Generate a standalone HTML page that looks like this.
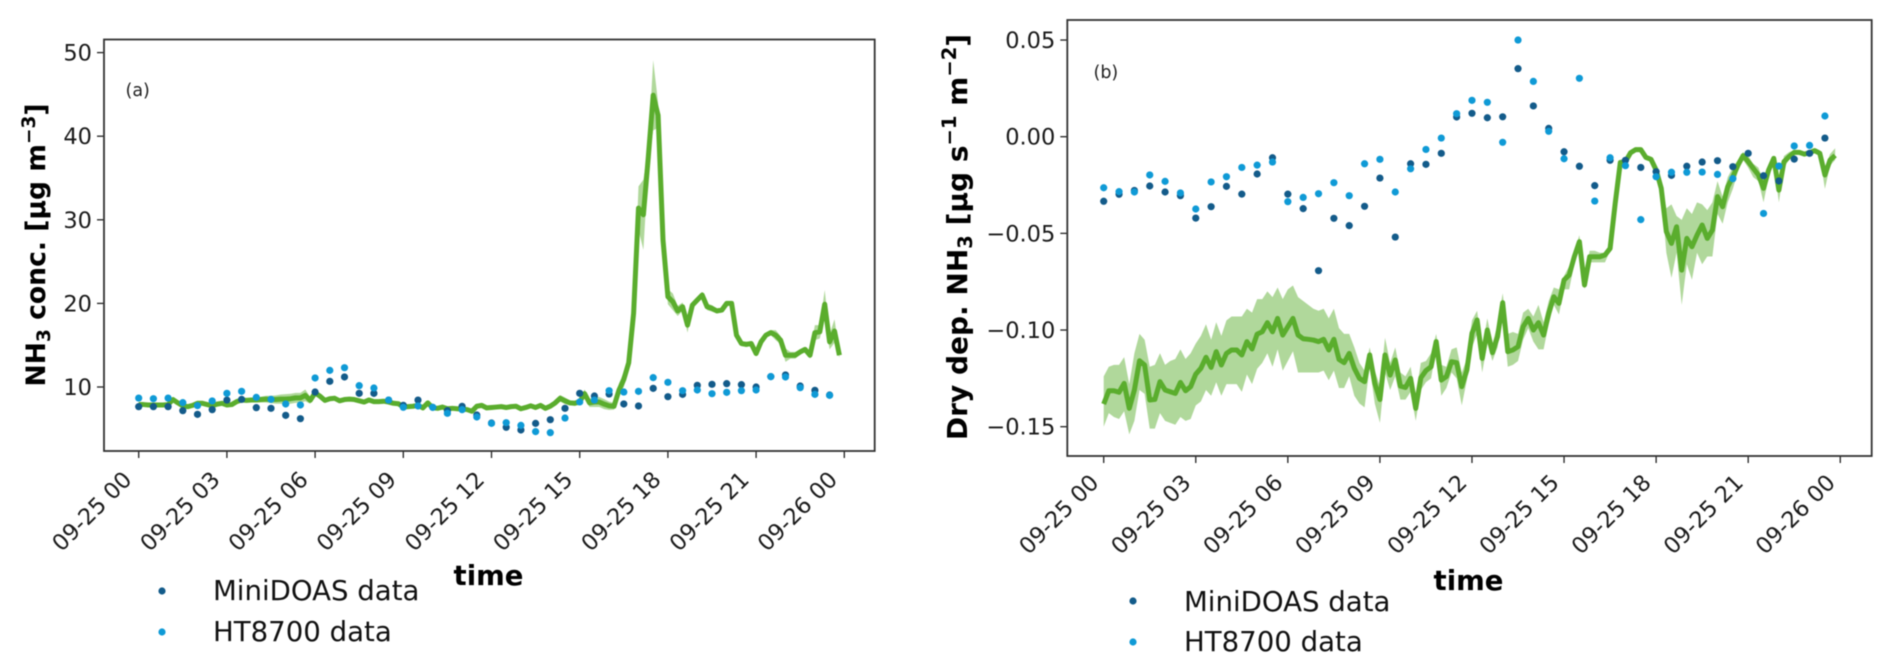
<!DOCTYPE html>
<html lang="en">
<head>
<meta charset="utf-8">
<title>NH3 concentration and dry deposition</title>
<style>
html,body{margin:0;padding:0;background:#fff;}
svg{display:block;font-family:"DejaVu Sans","Liberation Sans",sans-serif;filter:blur(0.45px);}
.tick{font-size:22.5px;fill:#1a1a1a;}
.ylab{font-size:26.6px;font-weight:bold;fill:#000;}
.xlab{font-size:27.5px;font-weight:bold;fill:#000;}
.leg{font-size:27.6px;fill:#111;}
.tag{font-size:17.5px;fill:#222;}
</style>
</head>
<body>
<svg id="chart" xmlns="http://www.w3.org/2000/svg" width="1892" height="671" viewBox="0 0 1892 671">
  <rect x="0" y="0" width="1892" height="671" fill="#fff"/>
  <g id="panelA"></g>
  <g id="panelB"></g>
  <rect x="104" y="39.5" width="770.7" height="411.5" fill="none" stroke="#333" stroke-width="1.8"/>
  <rect x="1067.3" y="20" width="804.4" height="436" fill="none" stroke="#333" stroke-width="1.8"/>
  <text class="tag" x="125.5" y="96">(a)</text>
  <text class="tag" x="1093.5" y="78">(b)</text>
  <text class="ylab" text-anchor="middle" transform="translate(45,245) rotate(-90)">NH<tspan font-size="18.5" dy="5">3</tspan><tspan dy="-5"> conc. [µg m</tspan><tspan font-size="18.5" dy="-10">−3</tspan><tspan dy="10">]</tspan></text>
  <text class="ylab" text-anchor="middle" style="font-size:28px" transform="translate(967,237) rotate(-90)">Dry dep. NH<tspan font-size="19.5" dy="5">3</tspan><tspan dy="-5"> [µg s</tspan><tspan font-size="19.5" dy="-11">−1</tspan><tspan dy="11"> m</tspan><tspan font-size="19.5" dy="-11">−2</tspan><tspan dy="11">]</tspan></text>
  <text class="xlab" text-anchor="middle" x="488.5" y="585">time</text>
  <text class="xlab" text-anchor="middle" x="1468.5" y="590">time</text>
  <g>
    <circle cx="162" cy="591" r="3.6" fill="#135b8a"/>
    <text class="leg" x="213" y="600">MiniDOAS data</text>
    <circle cx="162" cy="632" r="3.6" fill="#0f9ad6"/>
    <text class="leg" x="213" y="641">HT8700 data</text>
  </g>
  <g>
    <circle cx="1133" cy="601" r="3.6" fill="#135b8a"/>
    <text class="leg" x="1184" y="611">MiniDOAS data</text>
    <circle cx="1133" cy="642" r="3.6" fill="#0f9ad6"/>
    <text class="leg" x="1184" y="651">HT8700 data</text>
  </g>
</svg>
<script>
// ---------- shared categories and ticks ----------
const xTickHours = [0,3,6,9,12,15,18,21,24];
const xTickLabels = ["09-25 00","09-25 03","09-25 06","09-25 09","09-25 12","09-25 15","09-25 18","09-25 21","09-26 00"];
const aYTicks = [10,20,30,40,50];
const aYTickLabels = ["10","20","30","40","50"];
const bYTicks = [0.05,0,-0.05,-0.10,-0.15];
const bYTickLabels = ["0.05","0.00","−0.05","−0.10","−0.15"];

// ---------- panel (a): half-hourly measurements ----------
const aMiniDoas = [7.65,7.65,7.65,7.17,6.73,7.29,8.44,8.52,7.53,7.45,6.61,6.21,9.40,10.68,11.20,9.24,9.24,8.44,7.81,8.44,7.57,7.17,7.69,6.65,
5.69,5.18,4.86,5.65,6.09,7.45,9.24,8.92,9.16,7.97,7.73,9.84,8.84,9.12,10.2,10.32,10.4,10.28,10.0,11.24,11.44,10.12,9.6,9.04];
const aHt8700 = [8.68,8.6,8.68,8.13,7.77,8.33,9.24,9.48,8.76,8.52,7.97,7.85,11.08,11.99,12.31,10.16,9.88,8.44,7.57,7.73,7.57,6.85,7.29,6.41,
5.65,5.73,5.41,4.66,4.54,6.29,8.21,8.44,9.56,9.4,9.48,11.12,10.56,9.56,9.64,9.2,9.36,9.56,9.64,11.24,11.2,9.92,9.12,9.0];

// ---------- panel (a): 10-minute model line and spread ----------
const aModel = [
7.9,7.9,7.85,7.85,7.85,7.85, 7.9,8.5,8.1,7.75,7.65,7.8, 8.05,8.05,7.9,7.75,7.95,8.05, 7.85,7.9,8.25,8.45,8.4,8.45,
8.45,8.5,8.55,8.5,8.5,8.55, 8.55,8.6,8.7,8.7,9.0,8.4, 9.3,8.9,8.4,8.6,8.65,8.35, 8.5,8.55,8.5,8.35,8.2,8.45,
8.25,8.25,8.3,8.2,8.05,8.0, 7.6,7.65,7.7,7.8,7.5,8.1, 7.5,7.45,7.6,7.4,7.45,7.4, 7.35,7.3,7.1,7.7,7.8,7.5,
7.55,7.6,7.65,7.55,7.65,7.7, 7.4,7.55,7.75,7.55,7.8,7.45, 7.7,8.1,8.65,8.35,8.1,8.05, 8.25,9.2,8.1,8.2,8.2,7.95,
7.75,7.7,9.6,10.9,12.9,18.8, 31.4,30.6,37.5,44.9,42.5,27.6, 20.8,20.2,19.1,19.6,17.4,19.8, 20.4,21.0,19.6,19.4,19.1,19.2,
20.0,20.0,16.2,15.2,15.1,15.2, 14.0,15.4,16.2,16.5,16.2,15.6, 13.8,13.8,13.8,14.2,14.5,13.8, 16.5,16.6,19.9,15.4,16.7,13.8];
const aSpread = [
.25,.25,.25,.25,.25,.25, .25,.25,.25,.25,.25,.25, .25,.25,.25,.25,.25,.25, .25,.25,.25,.25,.25,.25,
.3,.35,.4,.45,.5,.55, .6,.6,.6,.6,.7,.4, .3,.3,.25,.25,.25,.25, .2,.2,.2,.2,.2,.2,
.2,.2,.2,.2,.2,.2, .2,.2,.2,.2,.2,.2, .2,.2,.2,.2,.2,.2, .2,.2,.2,.2,.2,.2,
.2,.2,.2,.2,.2,.2, .2,.2,.2,.2,.2,.2, .2,.3,.4,.4,.3,.3, .4,.5,.5,.6,.6,.6,
.5,.4,.8,.9,.9,.6, 2.6,4.2,1.2,4.2,1.5,.5, .9,1.0,.6,.5,.9,.4, .4,.4,.4,.4,.3,.3,
.2,.2,.2,.3,.3,.3, .3,.3,.3,.3,.6,.5, .8,.4,.4,.3,.3,.4, .9,.8,1.7,.9,1.4,.3];

// ---------- panel (b): half-hourly measurements ----------
const bMiniDoas = [-.0334,-.0298,-.0278,-.0255,-.0286,-.0305,-.0421,-.0362,-.0257,-.0297,-.0193,-.0109,-.0297,-.0372,-.0693,-.0422,-.0460,-.0360,-.0214,-.0519,-.0140,-.0143,-.0086,.0102,
.0121,.0098,.0103,.0352,.0159,.0043,-.0078,-.0153,-.0253,-.0122,-.0122,-.0159,-.0181,-.0200,-.0153,-.0131,-.0124,-.0155,-.0086,-.0202,-.0229,-.0116,-.0086,-.0007];
const bHt8700 = [-.0264,-.0284,-.0286,-.0198,-.0231,-.0291,-.0374,-.0234,-.0207,-.0159,-.0147,-.0131,-.0336,-.0314,-.0295,-.0238,-.0305,-.0140,-.0117,-.0286,-.0166,-.0066,-.0007,.0119,
.0188,.0178,-.0029,.0500,.0286,.0028,-.0114,.0302,-.0333,-.0109,-.0150,-.0429,-.0207,-.0184,-.0184,-.0183,-.0195,-.0217,null,-.0397,-.0152,-.0048,-.0045,.0107];

// ---------- panel (b): 10-minute model line and envelope ----------
const bModel = [
-.1383,-.1314,-.1314,-.1322,-.1276,-.1405,-.1310,-.1159,-.1181,-.1362,-.1359,-.1267,-.1310,-.1319,-.1328,-.1271,-.1314,-.1293,
-.1228,-.1198,-.1141,-.1193,-.1112,-.1181,-.1121,-.1103,-.1103,-.1129,-.1060,-.1098,-.1021,-.1009,-.0962,-.1009,-.0940,-.1026,
-.0983,-.0940,-.1026,-.1045,-.1048,-.1052,-.1060,-.1048,-.1103,-.1048,-.1152,-.1169,-.1121,-.1198,-.1250,-.1267,-.1129,-.1276,
-.1359,-.1129,-.1233,-.1155,-.1290,-.1297,-.1250,-.1405,-.1247,-.1210,-.1190,-.1060,-.1259,-.1241,-.1164,-.1169,-.1293,-.1207,
-.1017,-.0948,-.1147,-.1000,-.1117,-.1034,-.0859,-.1112,-.1103,-.1086,-.0983,-.0940,-.1000,-.0962,-.1026,-.0914,-.0828,-.0862,
-.0741,-.0716,-.0621,-.0543,-.0767,-.0621,-.0621,-.0621,-.0612,-.0578,-.0345,-.0133,-.0129,-.0083,-.0067,-.0067,-.0107,-.0117,
-.0172,-.0267,-.0491,-.0552,-.0466,-.0690,-.0526,-.0569,-.0509,-.0457,-.0526,-.0483,-.0310,-.0362,-.0259,-.0207,-.0147,-.0098,
-.0129,-.0164,-.0198,-.0267,-.0172,-.0112,-.0276,-.0129,-.0103,-.0081,-.0081,-.0090,-.0083,-.0072,-.0086,-.0198,-.0121,-.0097];
const bUpper = [
-.124,-.119,-.118,-.118,-.114,-.128,-.112,-.102,-.105,-.119,-.118,-.112,-.118,-.116,-.115,-.110,-.115,-.112,
-.107,-.103,-.097,-.105,-.096,-.103,-.095,-.093,-.093,-.093,-.089,-.091,-.084,-.084,-.080,-.083,-.078,-.084,
-.079,-.077,-.083,-.085,-.087,-.089,-.090,-.089,-.094,-.089,-.099,-.102,-.102,-.109,
-.117,-.121,-.109,-.121,-.129,-.104,-.117,-.109,-.122,-.124,-.119,-.134,-.117,-.116,-.112,-.102,-.118,-.119,-.110,-.109,-.122,-.115,
-.095,-.090,-.109,-.094,-.107,-.097,-.081,-.102,-.101,-.102,-.091,-.089,-.093,-.087,-.096,-.085,-.078,-.079,
-.072,-.067,-.059,-.051,-.073,-.059,-.059,-.060,-.060,-.057,-.034,-.012,-.012,-.007,-.006,-.006,-.010,-.011,
-.016,-.024,-.037,-.035,-.041,-.043,-.037,-.040,-.034,-.035,-.038,-.034,-.023,-.031,-.021,-.016,-.012,-.008,
-.010,-.014,-.016,-.023,-.015,-.010,-.023,-.010,-.008,-.007,-.007,-.008,-.007,-.006,-.007,-.016,-.009,-.006];
const bLower = [
-.150,-.143,-.145,-.146,-.142,-.154,-.147,-.131,-.133,-.151,-.151,-.143,-.147,-.148,-.149,-.145,-.147,-.146,
-.139,-.137,-.131,-.134,-.127,-.134,-.128,-.128,-.128,-.132,-.123,-.128,-.120,-.117,-.112,-.119,-.110,-.121,
-.116,-.111,-.122,-.122,-.122,-.122,-.122,-.121,-.126,-.121,-.130,-.130,-.124,-.134,
-.138,-.140,-.119,-.138,-.148,-.122,-.131,-.124,-.136,-.136,-.132,-.147,-.131,-.127,-.125,-.110,-.134,-.130,-.122,-.125,-.139,-.126,
-.109,-.102,-.122,-.107,-.116,-.109,-.091,-.119,-.118,-.116,-.105,-.099,-.106,-.110,-.110,-.097,-.087,-.092,
-.079,-.079,-.066,-.058,-.079,-.065,-.065,-.065,-.065,-.059,-.036,-.015,-.014,-.009,-.008,-.008,-.012,-.013,
-.019,-.029,-.060,-.073,-.060,-.087,-.066,-.074,-.060,-.066,-.062,-.062,-.040,-.045,-.034,-.027,-.018,-.012,
-.016,-.021,-.023,-.034,-.021,-.014,-.034,-.016,-.012,-.009,-.009,-.010,-.009,-.008,-.010,-.027,-.015,-.012];

// ---------- axis functions ----------
function xA(hour){ return 138.7 + hour * 29.4; }
function yA(v){ return 387 - (v - 10) * 8.36; }
function xB(hour){ return 1103.7 + hour * 30.69; }
function yB(v){ return 136.7 - v * 1933.3; }

const NS = "http://www.w3.org/2000/svg";
const DOT_HOURS = 0.5;
const LINE_HOURS = 1 / 6;

function make(tag, attrs, parent){
  const el = document.createElementNS(NS, tag);
  for (const k in attrs) el.setAttribute(k, attrs[k]);
  parent.appendChild(el);
  return el;
}

function drawPanel(parent, x, y, upper, lower, line, mini, ht, yTicks, yLabels, frameLeft, frameBottom, labelDx, labelDy){
  // band
  let d = "";
  for (let i = 0; i < line.length; i++) d += (i ? "L" : "M") + x(i * LINE_HOURS).toFixed(2) + " " + y(upper[i]).toFixed(2);
  for (let i = line.length - 1; i >= 0; i--) d += "L" + x(i * LINE_HOURS).toFixed(2) + " " + y(lower[i]).toFixed(2);
  const band = make("path", {d: d + "Z", fill: "#5aad2d", "fill-opacity": "0.48", stroke: "none"}, parent);
  
  

  // line
  let l = "";
  for (let i = 0; i < line.length; i++) l += (i ? "L" : "M") + x(i * LINE_HOURS).toFixed(2) + " " + y(line[i]).toFixed(2);
  const path = make("path", {d: l, fill: "none", stroke: "#5aad2d", "stroke-width": "5", "stroke-linejoin": "round"}, parent);
  
  

  // points
  mini.forEach(function(v, j){
    if (v === null) return;
    const c = make("circle", {cx: x(j * DOT_HOURS).toFixed(2), cy: y(v).toFixed(2), r: "3.6", fill: "#135b8a"}, parent);
    
    
  });
  ht.forEach(function(v, j){
    if (v === null) return;
    const c = make("circle", {cx: x(j * DOT_HOURS).toFixed(2), cy: y(v).toFixed(2), r: "3.6", fill: "#0f9ad6"}, parent);
    
    
  });

  // y ticks
  yTicks.forEach(function(v, i){
    const t = make("line", {x1: frameLeft - 7, x2: frameLeft, y1: y(v), y2: y(v), stroke: "#222", "stroke-width": "1.3"}, parent);
    
    
    const lab = make("text", {x: frameLeft - 12, y: y(v) + 8, "text-anchor": "end", "class": "tick"}, parent);
    
    
    lab.textContent = yLabels[i];
  });

  // x ticks
  xTickHours.forEach(function(h, i){
    const t = make("line", {x1: x(h), x2: x(h), y1: frameBottom, y2: frameBottom + 7, stroke: "#222", "stroke-width": "1.3"}, parent);
    
    
    const lab = make("text", {"text-anchor": "end", "class": "tick", transform: "translate(" + (x(h) + labelDx) + "," + (frameBottom + labelDy) + ") rotate(-45)"}, parent);
    
    
    lab.textContent = xTickLabels[i];
  });
}

const aUpper = aModel.map(function(v, i){ return v + aSpread[i]; });
const aLower = aModel.map(function(v, i){ return v - aSpread[i]; });

drawPanel(document.getElementById("panelA"), xA, yA, aUpper, aLower, aModel, aMiniDoas, aHt8700, aYTicks, aYTickLabels, 104, 451, -5.7, 30);
drawPanel(document.getElementById("panelB"), xB, yB, bUpper, bLower, bModel, bMiniDoas, bHt8700, bYTicks, bYTickLabels, 1067.3, 456, -3.7, 28);
</script>
</body>
</html>
